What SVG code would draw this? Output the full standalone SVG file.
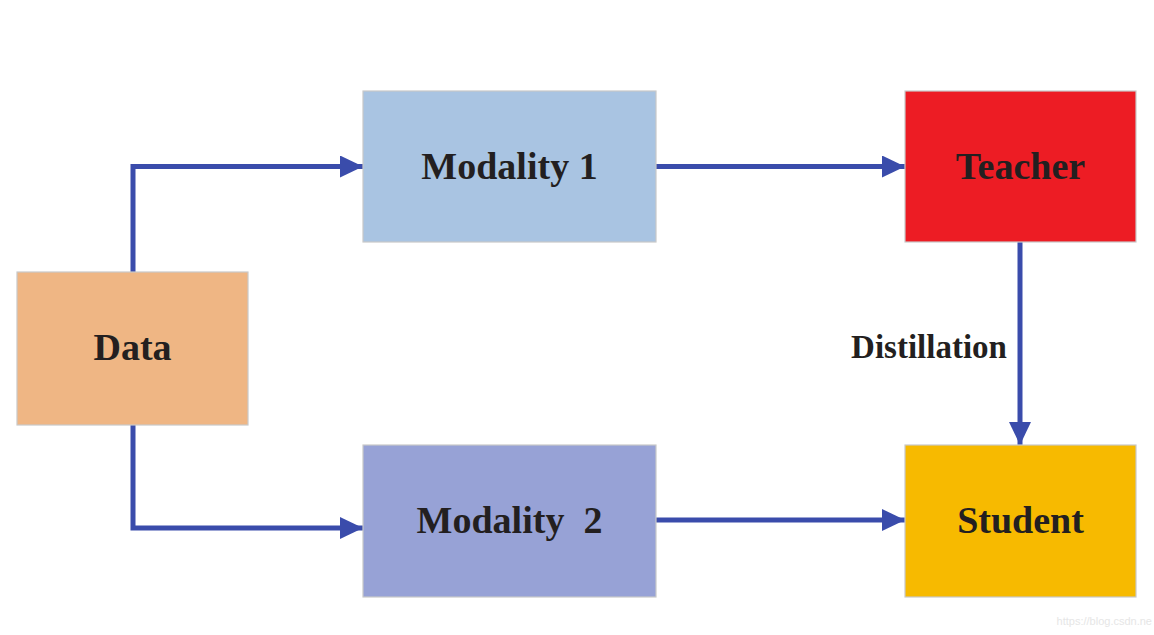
<svg xmlns="http://www.w3.org/2000/svg" width="1154" height="635" viewBox="0 0 1154 635">
<style>
.box{stroke:#c9c9c9;stroke-width:1.2}
.lbl{font-family:"Liberation Serif","Times New Roman",serif;font-weight:bold;font-size:38px;fill:#231f20;text-anchor:middle}
.conn{fill:none;stroke:#3a4cab;stroke-width:5;stroke-linejoin:miter}
</style>
<defs>
<marker id="ah" viewBox="0 0 23 22" refX="23" refY="11" markerWidth="23" markerHeight="22" markerUnits="userSpaceOnUse" orient="auto">
<path d="M0,0 L23,11 L0,22 Z" fill="#3a4cab"/>
</marker>
</defs>
<rect width="1154" height="635" fill="#ffffff"/>
<g id="connectors">
<path class="conn" d="M133,272 V166.5 H363" marker-end="url(#ah)"/>
<path class="conn" d="M656,166.5 H905" marker-end="url(#ah)"/>
<path class="conn" d="M133,425 V528 H363" marker-end="url(#ah)"/>
<path class="conn" d="M656,520 H905" marker-end="url(#ah)"/>
<path class="conn" d="M1020,242 V445" marker-end="url(#ah)"/>
</g>
<g id="data">
<rect class="box" x="17" y="272" width="231" height="153" fill="#efb684"/>
<text class="lbl" x="132.5" y="360">Data</text>
</g>
<g id="modality1">
<rect class="box" x="363" y="91" width="293" height="151" fill="#a9c4e2"/>
<text class="lbl" x="509.5" y="179">Modality 1</text>
</g>
<g id="teacher">
<rect class="box" x="905" y="91" width="231" height="151" fill="#ed1c24"/>
<text class="lbl" x="1020.5" y="179">Teacher</text>
</g>
<g id="modality2">
<rect class="box" x="363" y="445" width="293" height="152" fill="#97a2d6"/>
<text class="lbl" x="509.5" y="533" xml:space="preserve">Modality  2</text>
</g>
<g id="student">
<rect class="box" x="905" y="445" width="231" height="152" fill="#f7ba00"/>
<text class="lbl" x="1020.5" y="533">Student</text>
</g>
<g id="distillation-label">
<text class="lbl" x="929" y="358" style="font-size:33px">Distillation</text>
</g>
<text x="1152" y="625" style="font-family:'Liberation Sans',Arial,sans-serif;font-size:11px;fill:#e6e6e6;text-anchor:end">https://blog.csdn.ne</text>
</svg>
